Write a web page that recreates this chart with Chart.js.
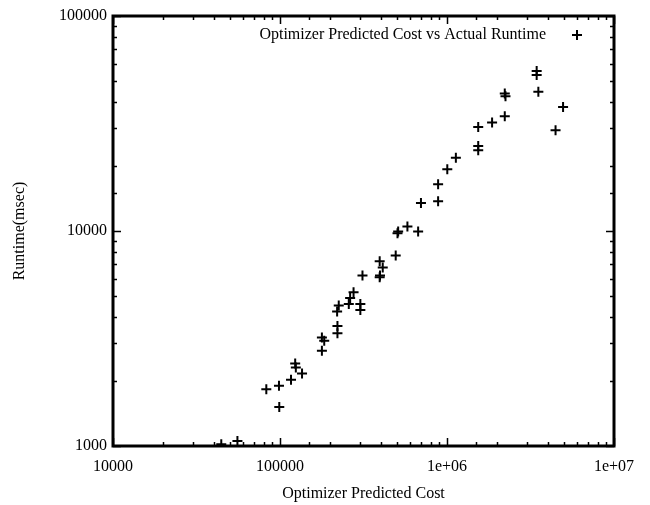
<!DOCTYPE html>
<html>
<head>
<meta charset="utf-8">
<script src="https://cdn.jsdelivr.net/npm/chart.js@4/dist/chart.umd.min.js"></script>
<style>
  body { margin: 0; background: #fff; }
  canvas { display: block; }
</style>
</head>
<body>
<canvas id="costChart" width="650" height="505"></canvas>
<script>
const predictedCost = [
    44500, 55600, 82800, 98600, 99000, 116400, 123300, 124400, 135500,
    178200, 184000, 178200, 219800, 224800, 220800, 220800, 258200, 263000,
    275700, 302800, 302800, 311800, 395300, 412300, 395300, 397000, 493000,
    505400, 510000, 579400, 671700, 698400, 884700, 884700, 1004000, 1130000,
    1538000, 1538000, 1538000, 1862000, 2218000, 2218000, 2240000, 3443000,
    3443000, 3524000, 4955000, 4467000
];
const actualRuntime = [
    1018, 1055, 1836, 1905, 1520, 2032, 2420, 2317, 2173,
    3199, 3091, 2773, 4218, 4500, 3614, 3342, 4571, 4877,
    5190, 4571, 4286, 6210, 7227, 6772, 6097, 6210, 7691,
    9774, 9954, 10490, 9954, 13490, 16480, 13770, 19370, 21930,
    30470, 24830, 23730, 31930, 34190, 43550, 42380, 55430,
    53090, 44380, 37780, 29450
];
const xRange = [10000, 1e7];
const yRange = [1000, 100000];
const seriesLabel = 'Optimizer Predicted Cost vs Actual Runtime';

const serif = '"Liberation Serif", "Times New Roman", serif';
const fontSize = 16;

function isDecade(v) {
    const e = Math.log10(v);
    return Math.abs(e - Math.round(e)) < 1e-9;
}

function decadeLabel(value) {
    if (!isDecade(value)) return '';
    if (value >= 1e6) return '1e+0' + Math.round(Math.log10(value));
    return String(value);
}

// gnuplot-like frame with inward ticks on all four sides, plus key
const framePlugin = {
    id: 'frame',
    afterDraw(chart) {
        const ctx = chart.ctx;
        const a = chart.chartArea;
        const xs = chart.scales.x;
        const ys = chart.scales.y;
        ctx.save();
        ctx.strokeStyle = '#000';
        ctx.lineWidth = 1.5;
        ctx.beginPath();
        xs.ticks.forEach(t => {
            if (t.value < xRange[0] || t.value > xRange[1]) return;
            const px = Math.round(xs.getPixelForValue(t.value)) + 0.5;
            const len = isDecade(t.value) ? 8 : 4;
            ctx.moveTo(px, a.bottom); ctx.lineTo(px, a.bottom - len);
            ctx.moveTo(px, a.top); ctx.lineTo(px, a.top + len);
        });
        ys.ticks.forEach(t => {
            if (t.value < yRange[0] || t.value > yRange[1]) return;
            const py = Math.round(ys.getPixelForValue(t.value)) + 0.5;
            const len = isDecade(t.value) ? 8 : 4;
            ctx.moveTo(a.left, py); ctx.lineTo(a.left + len, py);
            ctx.moveTo(a.right, py); ctx.lineTo(a.right - len, py);
        });
        ctx.stroke();

        ctx.lineWidth = 3;
        ctx.strokeRect(a.left, a.top, a.right - a.left, a.bottom - a.top);

        // key, text first then the marker, right aligned
        ctx.fillStyle = '#000';
        ctx.font = fontSize + 'px ' + serif;
        ctx.textAlign = 'right';
        ctx.textBaseline = 'middle';
        ctx.fillText(seriesLabel, 546, 35);
        ctx.lineWidth = 2;
        ctx.beginPath();
        ctx.moveTo(572, 35); ctx.lineTo(582, 35);
        ctx.moveTo(577, 30); ctx.lineTo(577, 40);
        ctx.stroke();
        ctx.restore();
    }
};

const canvas = document.getElementById('costChart');
const chart = new Chart(canvas.getContext('2d'), {
    type: 'scatter',
    data: {
        datasets: [{
            label: seriesLabel,
            data: predictedCost.map((c, i) => ({ x: c, y: actualRuntime[i] })),
            pointStyle: 'cross',
            pointRadius: 5,
            pointBorderWidth: 2,
            borderColor: '#000',
            backgroundColor: '#000'
        }]
    },
    options: {
        responsive: false,
        animation: false,
        layout: {
            padding: { top: 16, right: 36, left: 0, bottom: 0 }
        },
        plugins: {
            legend: { display: false },
            tooltip: { enabled: false }
        },
        scales: {
            x: {
                type: 'logarithmic',
                min: xRange[0],
                max: xRange[1],
                grid: { display: false, drawTicks: false },
                border: { display: false },
                ticks: {
                    autoSkip: false,
                    maxRotation: 0,
                    padding: 11,
                    color: '#000',
                    font: { family: serif, size: fontSize },
                    callback: decadeLabel
                },
                title: {
                    display: true,
                    text: 'Optimizer Predicted Cost',
                    color: '#000',
                    font: { family: serif, size: fontSize },
                    padding: { top: 0, bottom: 2 }
                },
                afterFit(scale) { scale.height = 59; }
            },
            y: {
                type: 'logarithmic',
                min: yRange[0],
                max: yRange[1],
                grid: { display: false, drawTicks: false },
                border: { display: false },
                ticks: {
                    autoSkip: false,
                    padding: 6,
                    color: '#000',
                    font: { family: serif, size: fontSize },
                    callback: decadeLabel
                },
                title: {
                    display: true,
                    text: 'Runtime(msec)',
                    color: '#000',
                    font: { family: serif, size: fontSize },
                    padding: { top: 10, bottom: 0 }
                },
                afterFit(scale) { scale.width = 113; }
            }
        }
    },
    plugins: [framePlugin]
});
</script>
</body>
</html>
